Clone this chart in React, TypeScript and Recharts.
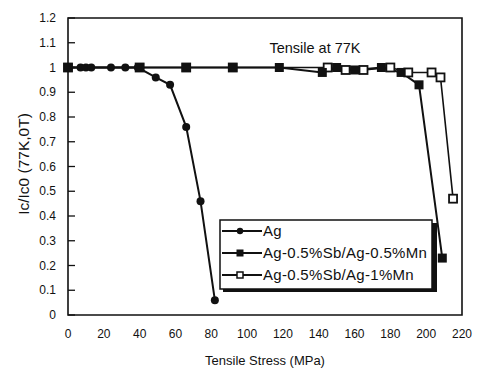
import * as React from "react";
import { LineChart, Line, XAxis, YAxis, ReferenceArea } from "recharts";

// Ag
const agStress = [0, 7, 10, 13, 24, 32, 39, 49, 57, 66, 74, 82];
const agRatio = [1, 1, 1, 1, 1, 1, 1, 0.96, 0.93, 0.76, 0.46, 0.06];

// Ag-0.5%Sb/Ag-0.5%Mn
const sbMn05Stress = [0, 40, 66, 92, 118, 142, 150, 160, 175, 186, 196, 209];
const sbMn05Ratio = [1, 1, 1, 1, 1, 0.98, 1, 0.99, 1, 0.98, 0.93, 0.23];

// Ag-0.5%Sb/Ag-1%Mn
const sbMn1Stress = [0, 40, 66, 92, 145, 155, 165, 180, 190, 203, 208, 215];
const sbMn1Ratio = [1, 1, 1, 1, 1, 0.99, 0.99, 1, 0.98, 0.98, 0.96, 0.47];

const xTicks = [0, 20, 40, 60, 80, 100, 120, 140, 160, 180, 200, 220];
const yTicks = [0, 0.1, 0.2, 0.3, 0.4, 0.5, 0.6, 0.7, 0.8, 0.9, 1, 1.1, 1.2];
const yMinorTicks = [
  0.05, 0.15, 0.25, 0.35, 0.45, 0.55, 0.65, 0.75, 0.85, 0.95, 1.05, 1.15,
];

const FONT = '"Liberation Sans", Arial, sans-serif';
const INK = "#111";

const zip = (xs: number[], ys: number[]) => xs.map((x, i) => ({ x, y: ys[i] }));
const agData = zip(agStress, agRatio);
const mn05Data = zip(sbMn05Stress, sbMn05Ratio);
const mn1Data = zip(sbMn1Stress, sbMn1Ratio);

function Circle(props: any) {
  const { cx, cy } = props;
  if (cx == null || cy == null) return <g />;
  return <circle cx={cx} cy={cy} r={4} fill={INK} />;
}
function FilledSquare(props: any) {
  const { cx, cy } = props;
  if (cx == null || cy == null) return <g />;
  return <rect x={cx - 4.5} y={cy - 4.5} width={9} height={9} fill={INK} />;
}
function OpenSquare(props: any) {
  const { cx, cy } = props;
  if (cx == null || cy == null) return <g />;
  return (
    <rect x={cx - 4} y={cy - 4} width={8} height={8} fill="#fff" stroke={INK} strokeWidth={1.8} />
  );
}

function YTick(props: any) {
  const { y, payload } = props;
  const v: number = payload.value;
  const isInt = Math.abs(v - Math.round(v)) < 1e-9;
  const label = isInt ? String(Math.round(v)) : v.toFixed(1);
  return (
    <g>
      <line x1={68} x2={75} y1={y} y2={y} stroke={INK} strokeWidth={1.3} />
      <text x={56} y={y} dy="0.35em" textAnchor="end" fontSize={12} fontFamily={FONT} fill={INK}>
        {label}
      </text>
    </g>
  );
}

function MinorTick(props: any) {
  const { y } = props;
  return <line x1={68} x2={72} y1={y} y2={y} stroke={INK} strokeWidth={1} />;
}

function Overlay() {
  return (
    <svg
      width={478}
      height={374}
      style={{ position: "absolute", left: 0, top: 0, pointerEvents: "none" }}
    >
      <text x={315} y={53} textAnchor="middle" fontSize={14.5} fontFamily={FONT} fill={INK}>
        Tensile at 77K
      </text>
      <text x={265} y={365} textAnchor="middle" fontSize={13} fontFamily={FONT} fill={INK}>
        Tensile Stress (MPa)
      </text>
      <text
        x={0}
        y={0}
        transform="translate(29,164) rotate(-90)"
        textAnchor="middle"
        fontSize={15.5}
        fontFamily={FONT}
        fill={INK}
      >
        Ic/Ic0 (77K,0T)
      </text>
    </svg>
  );
}

function Legend() {
  const rows = [
    { label: "Ag", marker: <circle cx={22} cy={0} r={3.2} fill={INK} /> },
    { label: "Ag-0.5%Sb/Ag-0.5%Mn", marker: <rect x={18.5} y={-3.5} width={7} height={7} fill={INK} /> },
    {
      label: "Ag-0.5%Sb/Ag-1%Mn",
      marker: <rect x={19} y={-3} width={6} height={6} fill="#fff" stroke={INK} strokeWidth={1.5} />,
    },
  ];
  return (
    <svg width={222} height={76} style={{ position: "absolute", left: 218, top: 218 }}>
      <rect x={5} y={5} width={214} height={69} fill={INK} />
      <rect x={2} y={2} width={212} height={69} fill="#fff" stroke={INK} strokeWidth={1.5} />
      {rows.map((r, i) => (
        <g key={r.label} transform={`translate(0, ${13 + i * 22})`}>
          <line x1={4} x2={44} y1={0} y2={0} stroke={INK} strokeWidth={2} />
          {r.marker}
          <text
            x={45}
            y={0}
            dy="0.36em"
            fontSize={15}
            letterSpacing={0.3}
            fontFamily={FONT}
            fill={INK}
          >
            {r.label}
          </text>
        </g>
      ))}
    </svg>
  );
}

export default function App() {
  return (
    <div style={{ position: "absolute", left: 0, top: 0, width: 478, height: 374, background: "#fff" }}>
      <LineChart width={478} height={374} margin={{ top: 18, right: 16, bottom: 19, left: 0 }}>
        <XAxis
          type="number"
          dataKey="x"
          domain={[0, 220]}
          ticks={xTicks}
          interval={0}
          axisLine={false}
          tickLine={false}
          tickSize={6}
          tickMargin={8}
          height={40}
          tick={{ fontSize: 12, fontFamily: FONT, fill: INK }}
        />
        <YAxis
          type="number"
          dataKey="y"
          domain={[0, 1.2]}
          ticks={yTicks}
          interval={0}
          width={68}
          axisLine={false}
          tickLine={false}
          tick={<YTick />}
        />
        <YAxis
          yAxisId="minor"
          type="number"
          domain={[0, 1.2]}
          ticks={yMinorTicks}
          interval={0}
          width={0}
          axisLine={false}
          tickLine={false}
          tick={<MinorTick />}
        />
        <ReferenceArea
          x1={0}
          x2={220}
          y1={0}
          y2={1.2}
          fill="none"
          stroke={INK}
          strokeWidth={1.6}
          fillOpacity={0}
          ifOverflow="visible"
        />
        <Line
          data={mn1Data}
          dataKey="y"
          stroke={INK}
          strokeWidth={1.6}
          dot={<OpenSquare />}
          isAnimationActive={false}
          type="linear"
        />
        <Line
          data={mn05Data}
          dataKey="y"
          stroke={INK}
          strokeWidth={2}
          dot={<FilledSquare />}
          isAnimationActive={false}
          type="linear"
        />
        <Line
          data={agData}
          dataKey="y"
          stroke={INK}
          strokeWidth={2}
          dot={<Circle />}
          isAnimationActive={false}
          type="linear"
        />
      </LineChart>
      <Overlay />
      <Legend />
    </div>
  );
}
